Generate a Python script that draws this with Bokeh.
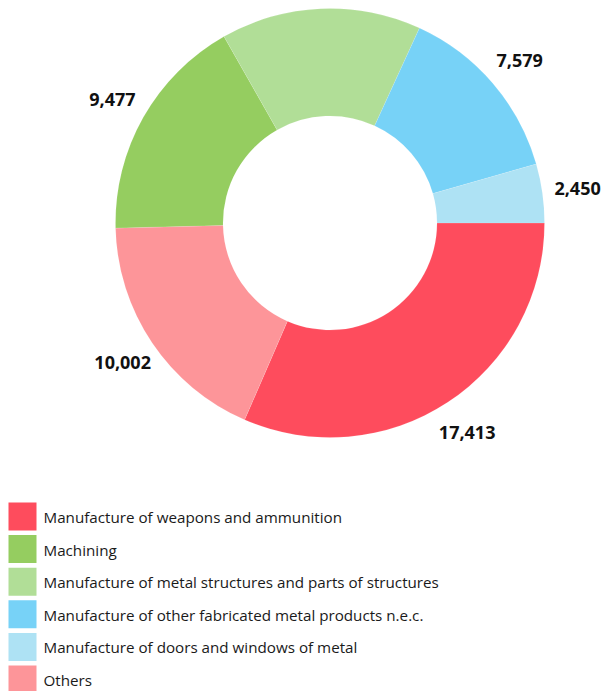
import numpy as np
from bokeh.plotting import figure
from bokeh.models import Range1d, ColumnDataSource
from bokeh.core.properties import value
from bokeh.embed import file_html
from bokeh.resources import INLINE

# ---- data ----
categories = [
    "Manufacture of weapons and ammunition",
    "Machining",
    "Manufacture of metal structures and parts of structures",
    "Manufacture of other fabricated metal products n.e.c.",
    "Manufacture of doors and windows of metal",
    "Others",
]
values = [17413, 9477, 8330, 7579, 2450, 10002]
value_labels = ["17,413", "9,477", "", "7,579", "2,450", "10,002"]
colors = ["#fe4c5d", "#95cd60", "#b1de97", "#77d2f7", "#aee2f4", "#fd9599"]
# counter-clockwise drawing order starting at 3 o'clock
ccw_order = [4, 3, 2, 1, 5, 0]

# ---- layout ----
W, H = 603, 691
def sx(x):
    return x
def sy(y):
    return H - y

cx, cy = sx(329.5), sy(222.5)
R_OUT, R_IN, R_LAB = 214.5, 107.0, 250.0

total = float(sum(values))
starts, ends, mids = [0.0] * 6, [0.0] * 6, [0.0] * 6
a = 0.0
for i in ccw_order:
    span = values[i] / total * 2 * np.pi
    starts[i], ends[i] = a, a + span
    mids[i] = a + span / 2
    a += span

p = figure(width=W, height=H, x_range=Range1d(0, W), y_range=Range1d(0, H),
           output_backend="svg", toolbar_location=None, min_border=0)
p.axis.visible = False
p.grid.visible = False
p.outline_line_color = None
p.background_fill_color = "white"
p.border_fill_color = "white"

wsrc = ColumnDataSource(dict(start=starts, end=ends, color=colors))
p.annular_wedge(x=cx, y=cy, inner_radius=R_IN, outer_radius=R_OUT,
                start_angle="start", end_angle="end", fill_color="color",
                line_color="white", line_width=0.2, line_alpha=0.6,
                source=wsrc)

# value labels
lx, ly, lt = [], [], []
for i in range(6):
    if value_labels[i]:
        lx.append(cx + R_LAB * np.cos(mids[i]))
        ly.append(cy + R_LAB * np.sin(mids[i]))
        lt.append(value_labels[i])
p.text(x=lx, y=ly, text=lt, text_align="center", text_baseline="middle",
       text_font=value("Open Sans"), text_font_style="bold",
       text_font_size="18px", text_color="#111111")

# legend
SQ, STEP, TOP = 28, 32.6, 502
ry = [sy(TOP + SQ / 2 + k * STEP) for k in range(6)]
p.rect(x=sx(8 + SQ / 2), y=ry, width=SQ, height=SQ,
       fill_color=colors, line_color=None)
p.text(x=sx(43), y=[v - 0.5 for v in ry], text=categories, text_align="left",
       text_baseline="middle", text_font=value("Open Sans"),
       text_font_size="15.2px", text_color="#1a1a1a")

open("out.html", "w").write(file_html(p, INLINE))
